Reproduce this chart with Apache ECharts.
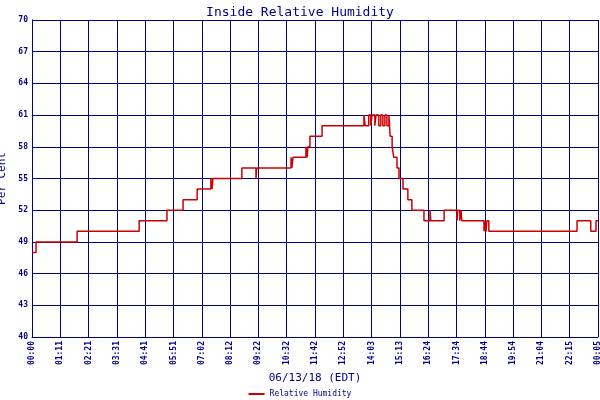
<!DOCTYPE html>
<html><head><meta charset="utf-8">
<script src="https://cdn.jsdelivr.net/npm/echarts@6/dist/echarts.min.js"></script>
<style>html,body{margin:0;background:#fff}#c{width:600px;height:400px}</style>
</head><body><div id="c"></div>
<script>
const xLabels=["00:00","01:11","02:21","03:31","04:41","05:51","07:02","08:12","09:22","10:32","11:42","12:52","14:03","15:13","16:24","17:34","18:44","19:54","21:04","22:15","00:05"];
const minutes=[0,10,112,266,335,375,410,444,447,449,521,556,558,643,645,648,680,683,685,690,720,824,827,836,841,844,851,854,861,866,871,876,881,886,889,894,898,906,911,921,933,943,973,988,990,1023,1055,1057,1062,1065,1067,1122,1124,1127,1129,1134,1353,1387,1400,1405];
const humidity=[48,49,50,51,52,53,54,55,54,55,56,55,56,57,56,57,58,57,58,59,60,61,60,61,60,61,60,61,60,61,60,61,60,61,59,58,57,56,55,54,53,52,51,52,51,52,51,52,51,52,51,50,51,50,51,50,51,50,51,51];
const step=70.25;
const navy='#000080',font='DejaVu Sans Mono';
const chart=echarts.init(document.getElementById('c'));
chart.setOption({
  animation:false,
  title:{text:'Inside Relative Humidity',left:'center',top:1,textStyle:{fontFamily:font,fontSize:13,fontWeight:'normal',color:navy}},
  grid:{left:32,right:2,top:20,bottom:63,containLabel:false,outerBoundsMode:'none'},
  legend:{bottom:-3,left:'center',itemWidth:16,itemHeight:2,icon:'rect',textStyle:{fontFamily:font,fontSize:8,color:navy},data:['Relative Humidity']},
  xAxis:{type:'value',min:0,max:step*20,interval:step,
    name:'06/13/18 (EDT)',nameLocation:'middle',nameGap:36,nameTextStyle:{fontFamily:font,fontSize:11,color:navy},
    axisLine:{lineStyle:{color:navy}},axisTick:{show:false},
    axisLabel:{rotate:90,fontFamily:font,fontSize:8,fontWeight:'bold',color:navy,margin:4,
      formatter:v=>xLabels[Math.round(v/step)]},
    splitLine:{lineStyle:{color:navy,width:1}}},
  yAxis:{type:'value',min:40,max:70,interval:3,
    name:'Per Cent',nameLocation:'middle',nameGap:24,nameTextStyle:{fontFamily:font,fontSize:11,color:navy},
    axisLine:{show:true,lineStyle:{color:navy}},axisTick:{show:false},
    axisLabel:{fontFamily:font,fontSize:8,fontWeight:'bold',color:navy,margin:4},
    splitLine:{lineStyle:{color:navy,width:1}}},
  series:[{name:'Relative Humidity',type:'line',step:'end',showSymbol:false,
    data:minutes.map((m,i)=>[m,humidity[i]]),
    lineStyle:{color:'#cc0000',width:1.5},itemStyle:{color:'#cc0000'}}]
});
</script></body></html>
